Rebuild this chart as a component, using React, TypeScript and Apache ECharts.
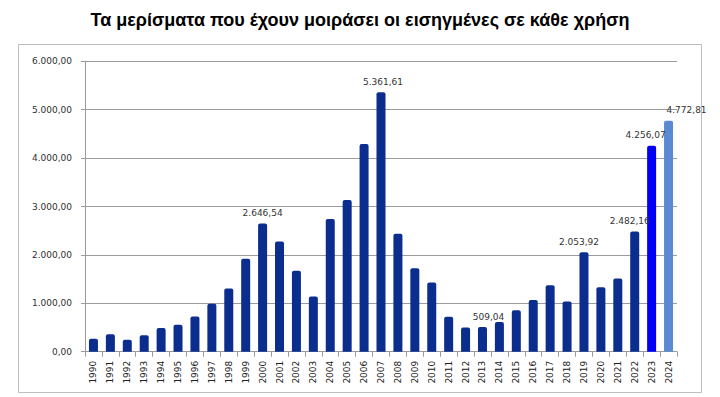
import React, { useEffect, useRef } from "react";
import * as echarts from "echarts";

const title = "Τα μερίσματα που έχουν μοιράσει οι εισηγμένες σε κάθε χρήση";
const years = [
  "1990", "1991", "1992", "1993", "1994", "1995", "1996", "1997", "1998", "1999",
  "2000", "2001", "2002", "2003", "2004", "2005", "2006", "2007", "2008", "2009",
  "2010", "2011", "2012", "2013", "2014", "2015", "2016", "2017", "2018", "2019",
  "2020", "2021", "2022", "2023", "2024",
];
const dividends = [
  265, 360, 245, 340, 490, 555, 725, 990, 1305, 1920,
  2646.54, 2275, 1670, 1140, 2740, 3135, 4290, 5361.61, 2435, 1725,
  1430, 720, 500, 509.04, 615, 858, 1070, 1375, 1035, 2053.92,
  1330, 1510, 2482.16, 4256.07, 4772.81,
];
const labelledYears = ["2000", "2007", "2013", "2019", "2022", "2023", "2024"];
const yTicks = [0, 1000, 2000, 3000, 4000, 5000, 6000];

const fmt = (v: number) => {
  const [i, d] = v.toFixed(2).split(".");
  return i.replace(/\B(?=(\d{3})+(?!\d))/g, ".") + "," + d;
};

export default function App() {
  const ref = useRef<HTMLDivElement>(null);
  useEffect(() => {
    if (!ref.current) return;
    const chart = echarts.init(ref.current, undefined, { renderer: "svg" });
    const labelOffsets: Record<string, number[]> = {
      "2000": [0, 0],
      "2007": [2, 0],
      "2013": [6, 0],
      "2019": [-5, 0],
      "2022": [-5, 0],
      "2023": [-6, 0],
      "2024": [18, 0],
    };
    const data = dividends.map((v, i) => {
      const y = years[i];
      const color = y === "2023" ? "#0000F5" : y === "2024" ? "#5A8AD2" : "#0A2D8E";
      const item: any = { value: v, itemStyle: { color } };
      if (labelledYears.includes(y)) {
        item.label = {
          show: true,
          position: "top",
          offset: labelOffsets[y],
          formatter: () => fmt(v),
          color: "#333333",
          fontSize: 9,
          fontFamily: "DejaVu Sans",
          distance: 6,
        };
      }
      return item;
    });
    chart.setOption({
      animation: false,
      title: {
        text: title,
        left: "center",
        top: 6,
        textStyle: { fontFamily: "Liberation Sans", fontWeight: "bold", fontSize: 18, color: "#000" },
      },
      graphic: [
        {
          type: "rect",
          shape: { x: 18.5, y: 44.5, width: 683, height: 348 },
          style: { fill: "none", stroke: "#BDBDBD", lineWidth: 1 },
          z: -10,
        },
      ],
      grid: { left: 85, right: 43, top: 61.3, bottom: 45.3 },
      xAxis: {
        type: "category",
        data: years,
        axisLine: { lineStyle: { color: "#9A9A9A" } },
        axisTick: { show: true, alignWithLabel: false, lineStyle: { color: "#9A9A9A" } },
        axisLabel: {
          rotate: 90,
          interval: 0,
          margin: 9,
          fontSize: 9,
          fontFamily: "DejaVu Sans",
          color: "#202020",
        },
      },
      yAxis: {
        type: "value",
        min: 0,
        max: 6000,
        interval: 1000,
        axisLine: { show: true, lineStyle: { color: "#9A9A9A" } },
        axisTick: { show: true, length: 4, lineStyle: { color: "#9A9A9A" } },
        splitLine: { lineStyle: { color: "#9C9C9C" } },
        axisLabel: {
          margin: 13,
          fontSize: 9,
          fontFamily: "DejaVu Sans",
          color: "#303030",
          formatter: (v: number) => (yTicks.includes(v) ? fmt(v) : ""),
        },
      },
      series: [
        {
          type: "bar",
          data,
          barWidth: 9,
          itemStyle: { borderRadius: [2, 2, 0, 0] },
        },
      ],
    });
    return () => chart.dispose();
  }, []);
  return <div ref={ref} style={{ width: 720, height: 397, position: "absolute", left: 0, top: 0 }} />;
}
